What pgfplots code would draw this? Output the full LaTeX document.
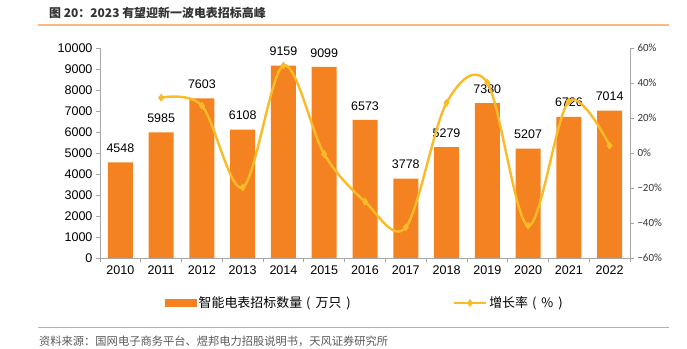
\documentclass[border=0pt]{standalone}
\usepackage{pgfplots}
\pgfplotsset{compat=1.18}
\usepackage{fontspec}
\setmainfont{Liberation Sans}
\newfontfamily\cjk{Noto Sans CJK SC}
\newfontfamily\carlito{Carlito}
\definecolor{barc}{HTML}{F58220}
\definecolor{linec}{HTML}{FABB28}
\definecolor{axc}{HTML}{A6A6A6}
\definecolor{titleline}{HTML}{FBB880}
\definecolor{bottomline}{HTML}{F5A05A}
\pgfplotsset{mylegline/.style={legend image code/.code={\draw[mark repeat=2, mark phase=2, ##1] plot coordinates {(0bp,0bp) (16bp,0bp) (32bp,0bp)};}}}
\begin{document}
\begin{tikzpicture}
\useasboundingbox (0,0) rectangle (687bp,349bp);
\node[anchor=west, inner sep=0pt, font=\cjk\bfseries\fontsize{12}{14}\selectfont, text=black!80] at (49bp,336bp) {图 20：2023 有望迎新一波电表招标高峰};
\draw[titleline, line width=1.2bp] (38bp,324bp) -- (669bp,324bp);
\draw[bottomline, line width=0.9bp] (38bp,22bp) -- (669bp,22bp);
\node[anchor=west, inner sep=0pt, font=\cjk\fontsize{11.3}{13}\selectfont, text=black!65] at (39bp,8bp) {资料来源：国网电子商务平台、煜邦电力招股说明书，天风证券研究所};

\begin{axis}[
  at={(100bp,91bp)}, anchor=south west, width=530bp, height=210bp, scale only axis,
  xmin=-0.5, xmax=12.5, ymin=0, ymax=10000,
  axis x line*=bottom, axis y line*=left,
  axis line style={axc, line width=0.8bp},
  tick align=outside, major tick length=4bp,
  every tick/.style={axc, line width=0.8bp},
  xtick={0,...,12},
  xticklabels={2010,2011,2012,2013,2014,2015,2016,2017,2018,2019,2020,2021,2022},
  major x tick style={draw=none},
  extra x ticks={-0.5,0.5,...,12.5}, extra x tick labels={},
  extra x tick style={major x tick style={draw=axc, line width=0.8bp}},
  ytick={0,1000,...,10000},
  scaled y ticks=false,
  /pgf/number format/assume math mode=true,
  /pgf/number format/1000 sep={},
  tick label style={font=\fontsize{12.6}{14}\selectfont, text=black},
  ybar, bar width=25bp,
  nodes near coords,
  every node near coord/.append style={font=\fontsize{12.5}{14}\selectfont, text=black, inner sep=0pt, anchor=south, yshift=9.5bp},
]
\addplot[fill=barc, draw=none] coordinates {(0,4548) (1,5985) (2,7603) (3,6108) (4,9159) (5,9099) (6,6573) (7,3778) (8,5279) (9,7380) (10,5207) (11,6726) (12,7014)};
\end{axis}

\begin{axis}[
  at={(100bp,91bp)}, anchor=south west, width=530bp, height=210bp, scale only axis,
  xmin=-0.5, xmax=12.5, ymin=-60, ymax=60,
  axis x line=none, axis y line*=right,
  axis line style={axc, line width=0.8bp},
  tick align=outside, major tick length=4bp,
  every tick/.style={axc, line width=0.8bp},
  ytick={-60,-40,...,60},
  yticklabels={−60\%,−40\%,−20\%,0\%,20\%,40\%,60\%},
  y tick label style={font=\carlito\fontsize{11}{13}\selectfont, text=black!80},
  legend style={at={(0.5,-0.214)}, anchor=center, legend columns=2, draw=none, fill=none,
    font=\cjk\fontsize{13}{15}\selectfont, inner sep=0pt,
    /tikz/every even column/.append style={column sep=100bp}},
  legend cell align=left,
]
\addlegendimage{legend image code/.code={\fill[barc] (0bp,-3.5bp) rectangle (31bp,3.5bp);}}
\addlegendentry{智能电表招标数量\hspace{4bp}(\hspace{5bp}万只\hspace{5bp})}
\addplot[linec, line width=2.4bp, smooth, tension=0.55, mark=diamond*, mark size=3.6bp,
  mark options={fill=linec, draw=linec, line width=0.5bp}, mylegline]
  coordinates {(1,31.6) (2,27.0) (3,-19.7) (4,50.0) (5,-0.7) (6,-27.8) (7,-42.5) (8,28.7) (9,40.2) (10,-41.5) (11,29.5) (12,4.2)};
\addlegendentry{增长率\hspace{4bp}(\hspace{5bp}\%\hspace{5bp})}
\end{axis}
\end{tikzpicture}
\end{document}
